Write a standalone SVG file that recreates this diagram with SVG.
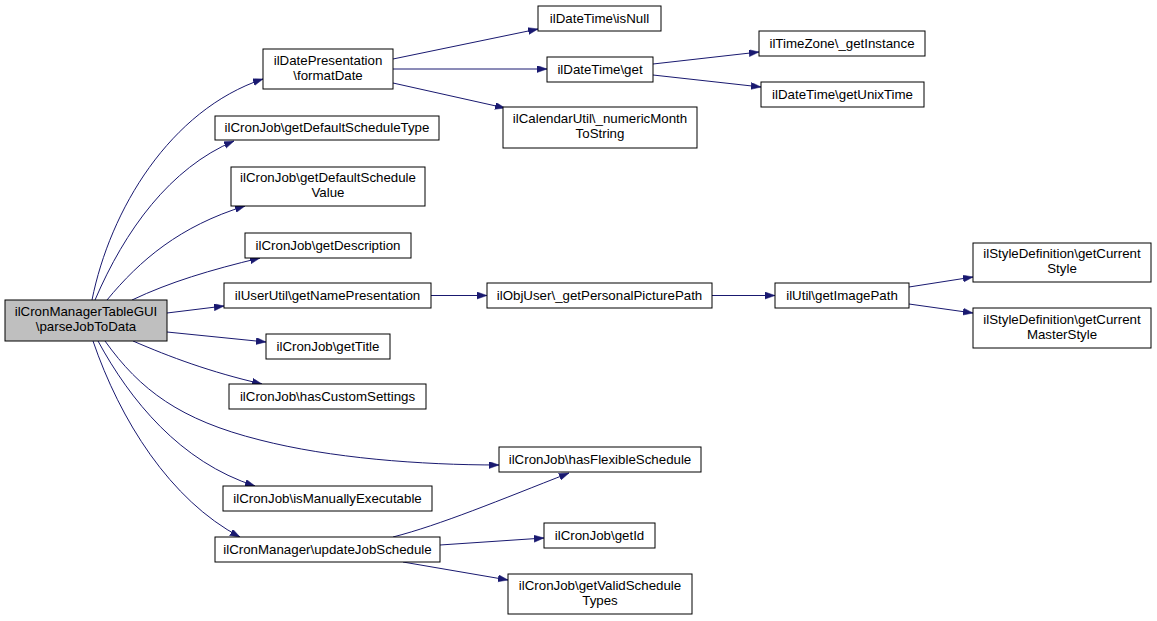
<svg xmlns="http://www.w3.org/2000/svg" width="1157" height="621" viewBox="0 0 1157 621">
<style>
.n rect{fill:#fff;stroke:#000;stroke-width:1}
.n.root rect{fill:#bfbfbf}
.n text{font-family:"Liberation Sans",Arial,sans-serif;font-size:13.3px;text-anchor:middle;fill:#000}
.e path{fill:none;stroke:#191970;stroke-width:1;marker-end:url(#ah)}
</style>
<defs>
<marker id="ah" markerUnits="userSpaceOnUse" markerWidth="11" markerHeight="8" refX="10" refY="3.5" orient="auto" viewBox="0 0 11 8">
<path d="M0,0 L10,3.5 L0,7 z" fill="#191970" stroke="#191970" stroke-width="0.5"/>
</marker>
</defs>
<rect width="1157" height="621" fill="#fff"/>
<g id="edges" class="e">
<path d="M92,300 C110,210 170,110 263,79"/>
<path d="M95,300 C125,230 170,168 234,141"/>
<path d="M107,300 C140,260 180,226 245,206"/>
<path d="M132,300 C170,282 210,270 260,258"/>
<path d="M167,313 L224,306"/>
<path d="M167,332 L266,342"/>
<path d="M133,341 C170,357 210,372 262,384"/>
<path d="M105,341 C140,390 180,420 260,440 C330,458 420,465 499,465"/>
<path d="M98,341 C130,400 180,462 255,486"/>
<path d="M93,341 C120,420 170,500 240,537"/>
<path d="M393,537 C440,525 500,500 569,473"/>
<path d="M440,545 L544,538"/>
<path d="M403,562 L508,580"/>
<path d="M393,59 L538,29"/>
<path d="M393,69 L547,69"/>
<path d="M393,83 L505,108"/>
<path d="M653,64 L759,52"/>
<path d="M653,75 L761,87"/>
<path d="M431,295.5 L487,295.5"/>
<path d="M712,295.5 L775,295.5"/>
<path d="M909,287 L973,277"/>
<path d="M909,304 L973,313"/>
</g>
<g id="root" class="n root"><rect x="5" y="300" width="162" height="41"/><text x="86" y="316">ilCronManagerTableGUI</text><text x="86" y="331">\parseJobToData</text></g>
<g id="formatDate" class="n"><rect x="263" y="49" width="130" height="40"/><text x="328" y="65">ilDatePresentation</text><text x="328" y="80">\formatDate</text></g>
<g id="getDefaultScheduleType" class="n"><rect x="215" y="116" width="224" height="24"/><text x="327" y="132">ilCronJob\getDefaultScheduleType</text></g>
<g id="getDefaultScheduleValue" class="n"><rect x="231" y="167" width="194" height="39"/><text x="328" y="182">ilCronJob\getDefaultSchedule</text><text x="328" y="197">Value</text></g>
<g id="getDescription" class="n"><rect x="245" y="233" width="166" height="25"/><text x="328" y="250">ilCronJob\getDescription</text></g>
<g id="getNamePresentation" class="n"><rect x="224" y="283" width="207" height="25"/><text x="327.5" y="300">ilUserUtil\getNamePresentation</text></g>
<g id="getPersonalPicturePath" class="n"><rect x="487" y="283" width="225" height="25"/><text x="599.5" y="300">ilObjUser\_getPersonalPicturePath</text></g>
<g id="getImagePath" class="n"><rect x="775" y="283" width="134" height="25"/><text x="842" y="300">ilUtil\getImagePath</text></g>
<g id="getCurrentStyle" class="n"><rect x="973" y="243" width="178" height="39"/><text x="1062" y="258">ilStyleDefinition\getCurrent</text><text x="1062" y="273">Style</text></g>
<g id="getCurrentMasterStyle" class="n"><rect x="973" y="308" width="178" height="40"/><text x="1062" y="324">ilStyleDefinition\getCurrent</text><text x="1062" y="339">MasterStyle</text></g>
<g id="getTitle" class="n"><rect x="266" y="334" width="124" height="25"/><text x="328" y="351">ilCronJob\getTitle</text></g>
<g id="hasCustomSettings" class="n"><rect x="229" y="384" width="197" height="25"/><text x="327.5" y="401">ilCronJob\hasCustomSettings</text></g>
<g id="hasFlexibleSchedule" class="n"><rect x="499" y="447" width="202" height="25"/><text x="600" y="464">ilCronJob\hasFlexibleSchedule</text></g>
<g id="isManuallyExecutable" class="n"><rect x="223" y="486" width="209" height="25"/><text x="327.5" y="503">ilCronJob\isManuallyExecutable</text></g>
<g id="updateJobSchedule" class="n"><rect x="215" y="537" width="225" height="25"/><text x="327.5" y="554">ilCronManager\updateJobSchedule</text></g>
<g id="getId" class="n"><rect x="544" y="523" width="111" height="25"/><text x="599.5" y="540">ilCronJob\getId</text></g>
<g id="getValidScheduleTypes" class="n"><rect x="508" y="574" width="184" height="40"/><text x="600" y="590">ilCronJob\getValidSchedule</text><text x="600" y="605">Types</text></g>
<g id="isNull" class="n"><rect x="538" y="6" width="123" height="25"/><text x="599.5" y="23">ilDateTime\isNull</text></g>
<g id="get" class="n"><rect x="547" y="57" width="106" height="25"/><text x="600" y="74">ilDateTime\get</text></g>
<g id="numericMonthToString" class="n"><rect x="503" y="107" width="194" height="41"/><text x="600" y="123">ilCalendarUtil\_numericMonth</text><text x="600" y="138">ToString</text></g>
<g id="getInstance" class="n"><rect x="759" y="31" width="166" height="25"/><text x="842" y="48">ilTimeZone\_getInstance</text></g>
<g id="getUnixTime" class="n"><rect x="761" y="82" width="163" height="25"/><text x="842.5" y="99">ilDateTime\getUnixTime</text></g>
</svg>
